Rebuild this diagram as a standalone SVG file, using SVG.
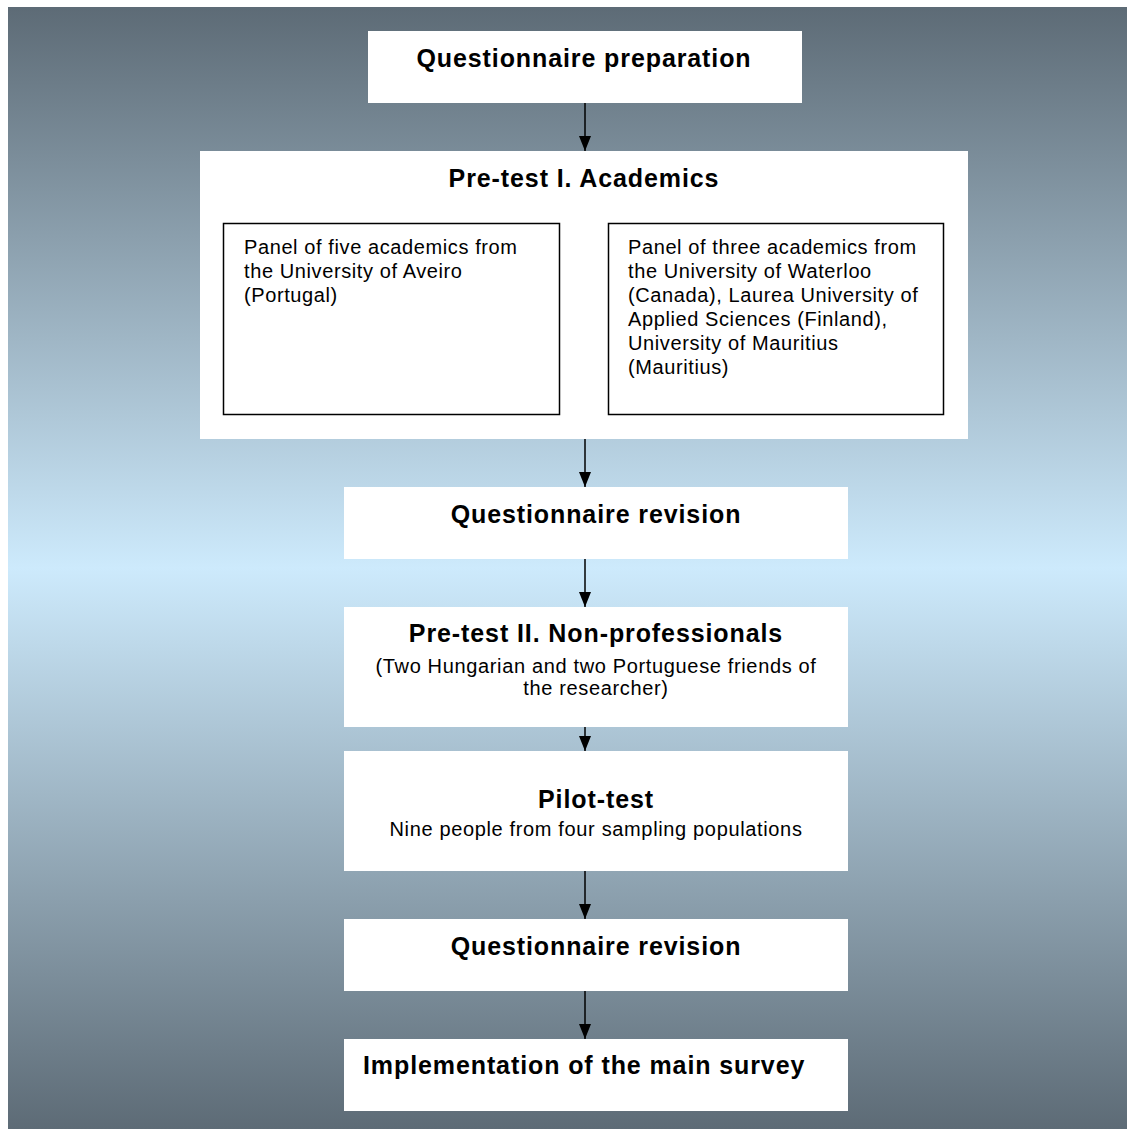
<svg xmlns="http://www.w3.org/2000/svg" width="1129" height="1129" viewBox="0 0 1129 1129">
  <defs>
    <linearGradient id="bg" x1="0" y1="0" x2="0" y2="1">
      <stop offset="0" stop-color="#5d6b76"/>
      <stop offset="0.5" stop-color="#cdeafc"/>
      <stop offset="1" stop-color="#5d6b76"/>
    </linearGradient>
    <marker id="arrow" markerWidth="15" markerHeight="12" refX="15" refY="6" orient="auto" markerUnits="userSpaceOnUse" viewBox="0 0 15 12">
      <path d="M0,0 L15,6 L0,12 Z" fill="#000"/>
    </marker>
    <style>
      .box { fill: #ffffff; }
      .inner { fill: #ffffff; stroke: #000; stroke-width: 1.5; }
      .title { font-family: "Liberation Sans", Arial, sans-serif; font-weight: bold; font-size: 25px; letter-spacing: 0.9px; fill: #000; text-anchor: middle; }
      .title-left { font-family: "Liberation Sans", Arial, sans-serif; font-weight: bold; font-size: 25px; letter-spacing: 0.9px; fill: #000; text-anchor: start; }
      .body { font-family: "Liberation Sans", Arial, sans-serif; font-size: 20px; letter-spacing: 0.6px; fill: #000; }
      .sub { font-family: "Liberation Sans", Arial, sans-serif; font-size: 20px; letter-spacing: 0.65px; fill: #000; text-anchor: middle; }
      .conn line { stroke: #000; stroke-width: 1.5; }
    </style>
  </defs>

  <!-- backdrop -->
  <rect x="0" y="0" width="1129" height="1129" fill="#ffffff"/>
  <rect x="8" y="7" width="1119" height="1122" fill="url(#bg)"/>

  <g id="prep">
    <rect class="box" x="368" y="31" width="434" height="72"/>
    <text class="title" x="584" y="67">Questionnaire preparation</text>
  </g>

  <g id="pretest1">
    <rect class="box" x="200" y="151" width="768" height="288"/>
    <text class="title" x="584" y="187">Pre-test I. Academics</text>
    <g id="panel-aveiro">
      <rect class="inner" x="223.5" y="223.5" width="336" height="191"/>
      <text class="body" x="244" y="254">
        <tspan x="244" dy="0">Panel of five academics from</tspan>
        <tspan x="244" dy="24">the University of Aveiro</tspan>
        <tspan x="244" dy="24">(Portugal)</tspan>
      </text>
    </g>
    <g id="panel-international">
      <rect class="inner" x="608.5" y="223.5" width="335" height="191"/>
      <text class="body" x="628" y="254">
        <tspan x="628" dy="0">Panel of three academics from</tspan>
        <tspan x="628" dy="24">the University of Waterloo</tspan>
        <tspan x="628" dy="24">(Canada), Laurea University of</tspan>
        <tspan x="628" dy="24">Applied Sciences (Finland),</tspan>
        <tspan x="628" dy="24">University of Mauritius</tspan>
        <tspan x="628" dy="24">(Mauritius)</tspan>
      </text>
    </g>
  </g>

  <g id="revision1">
    <rect class="box" x="344" y="487" width="504" height="72"/>
    <text class="title" x="596" y="523">Questionnaire revision</text>
  </g>

  <g id="pretest2">
    <rect class="box" x="344" y="607" width="504" height="120"/>
    <text class="title" x="596" y="642">Pre-test II. Non-professionals</text>
    <text class="sub" x="596" y="673">(Two Hungarian and two Portuguese friends of</text>
    <text class="sub" x="596" y="695">the researcher)</text>
  </g>

  <g id="pilot">
    <rect class="box" x="344" y="751" width="504" height="120"/>
    <text class="title" x="596" y="808">Pilot-test</text>
    <text class="sub" x="596" y="836">Nine people from four sampling populations</text>
  </g>

  <g id="revision2">
    <rect class="box" x="344" y="919" width="504" height="72"/>
    <text class="title" x="596" y="955">Questionnaire revision</text>
  </g>

  <g id="survey">
    <rect class="box" x="344" y="1039" width="504" height="72"/>
    <text class="title-left" x="363" y="1074">Implementation of the main survey</text>
  </g>

  <g id="connectors" class="conn">
    <line x1="585" y1="103" x2="585" y2="151" marker-end="url(#arrow)"/>
    <line x1="585" y1="439" x2="585" y2="487" marker-end="url(#arrow)"/>
    <line x1="585" y1="559" x2="585" y2="607" marker-end="url(#arrow)"/>
    <line x1="585" y1="727" x2="585" y2="751" marker-end="url(#arrow)"/>
    <line x1="585" y1="871" x2="585" y2="919" marker-end="url(#arrow)"/>
    <line x1="585" y1="991" x2="585" y2="1039" marker-end="url(#arrow)"/>
  </g>
</svg>
